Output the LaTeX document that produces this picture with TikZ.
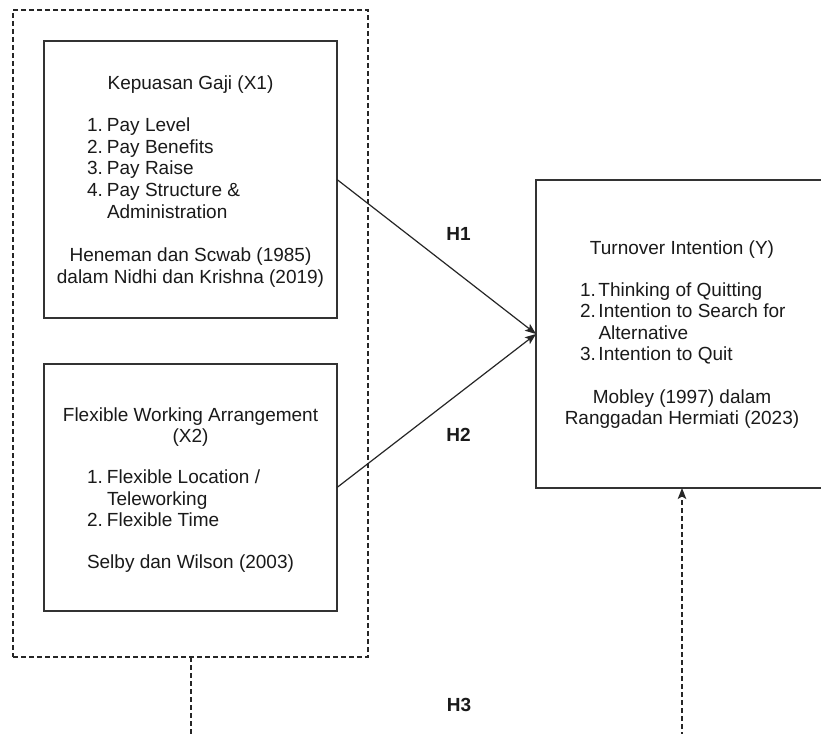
\documentclass[tikz,border=0pt]{standalone}
\usepackage{fontspec}
\setmainfont{Liberation Sans}
\usetikzlibrary{arrows.meta}
\definecolor{ink}{HTML}{1A1A1A}
\definecolor{edge}{HTML}{333333}
\begin{document}
\begin{tikzpicture}[x=1pt,y=-1pt,
  every node/.style={inner sep=0pt,outer sep=0pt,text=ink,font=\fontsize{19}{21.6}\selectfont},
  box/.style={draw=edge,line width=1.4pt,fill=white},
  grp/.style={draw=black!85,line width=1.2pt,dash pattern=on 5pt off 3pt},
  link/.style={draw=black!85,line width=1.2pt,-{Stealth[length=11pt,width=8.5pt,inset=2.5pt]}},
  dlink/.style={draw=black!85,line width=1.3pt,dash pattern=on 5pt off 3pt},
  lbl/.style={font=\fontsize{19}{21.6}\selectfont\bfseries,anchor=base}]
\useasboundingbox (0,0) rectangle (821,733);
\clip (0,0) rectangle (821,733);
\fill[white] (0,0) rectangle (821,733);
\renewcommand\arraystretch{1}
% group and boxes
\node[grp,minimum width=355pt,minimum height=647pt] (grp) at (190.5,333.5) {};
\node[box,minimum width=293pt,minimum height=277pt] (x1) at (190.5,179.5) {};
\node[box,minimum width=293pt,minimum height=247pt] (x2) at (190.5,487.5) {};
\node[box,minimum width=292pt,minimum height=308pt] (y) at (682,334) {};
% X1 texts
\node[anchor=base] (x1t) at (190.5,90) {Kepuasan Gaji (X1)};
\node[anchor=base west] (x1l) at (87,131.7) {\begin{tabular}[t]{@{}l@{}}
\makebox[20pt][l]{1.}Pay Level\\
\makebox[20pt][l]{2.}Pay Benefits\\
\makebox[20pt][l]{3.}Pay Raise\\
\makebox[20pt][l]{4.}Pay Structure \&\\
\hspace*{20pt}Administration\end{tabular}};
\node[anchor=base] (x1c) at (190.5,261.5) {\begin{tabular}[t]{@{}c@{}}Heneman dan Scwab (1985)\\dalam Nidhi dan Krishna (2019)\end{tabular}};
% X2 texts
\node[anchor=base] (x2t) at (190.5,421) {\begin{tabular}[t]{@{}c@{}}Flexible Working Arrangement\\(X2)\end{tabular}};
\node[anchor=base west] (x2l) at (87,483.5) {\begin{tabular}[t]{@{}l@{}}
\makebox[20pt][l]{1.}Flexible Location /\\
\hspace*{20pt}Teleworking\\
\makebox[20pt][l]{2.}Flexible Time\end{tabular}};
\node[anchor=base] (x2c) at (190.5,568.3) {Selby dan Wilson (2003)};
% Y texts
\node[anchor=base] (yt) at (682,254.3) {Turnover Intention (Y)};
\node[anchor=base west] (yl) at (580,296) {\begin{tabular}[t]{@{}l@{}}
\makebox[18.5pt][l]{1.}Thinking of Quitting\\
\makebox[18.5pt][l]{2.}Intention to Search for\\
\hspace*{18.5pt}Alternative\\
\makebox[18.5pt][l]{3.}Intention to Quit\end{tabular}};
\node[anchor=base] (yc) at (682,403) {\begin{tabular}[t]{@{}c@{}}Mobley (1997) dalam\\Ranggadan Hermiati (2023)\end{tabular}};
% connectors
\draw[link] (x1.east) -- (y.west);
\draw[link] (x2.east) -- (y.west);
\coordinate (h3a) at (191,745);
\coordinate (h3b) at (682,745);
\draw[dlink] ([xshift=0.5pt]grp.south) -- (h3a);
\draw[dlink,-{Stealth[length=11pt,width=8.5pt,inset=2.5pt]}] (h3b) -- (y.south);
% labels
\node[lbl] (h1) at (458.5,240.7) {H1};
\node[lbl] (h2) at (458.5,441.7) {H2};
\node[lbl] (h3) at (459,711.5) {H3};
\end{tikzpicture}
\end{document}
